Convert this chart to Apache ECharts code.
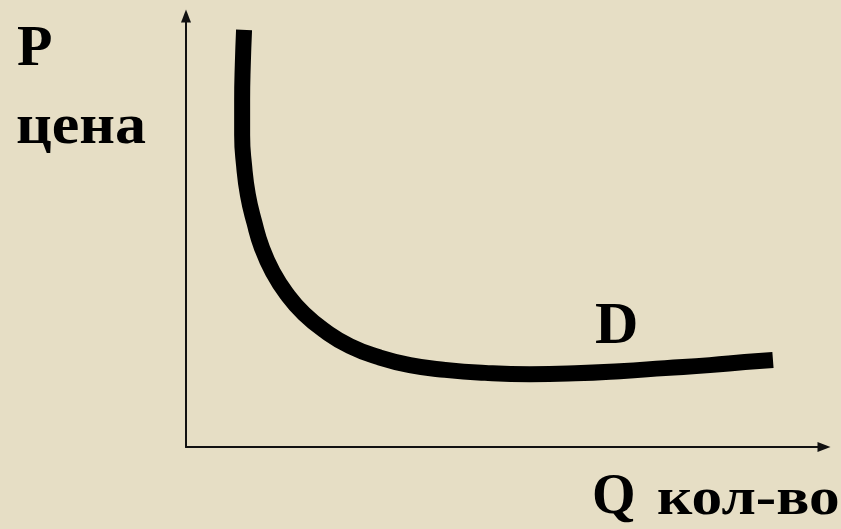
<!DOCTYPE html>
<html>
<head>
<meta charset="utf-8">
<script src="https://cdn.jsdelivr.net/npm/echarts@6/dist/echarts.min.js"></script>
<style>
  html, body { margin: 0; padding: 0; background: #e6dec5; }
  #chart { width: 841px; height: 529px; }
</style>
</head>
<body>
<div id="chart"></div>
<script>
// кривая спроса D: Q (кол-во) и P (цена), в условных единицах
const qValues = [9.1, 8.9, 8.8, 8.8, 9.1, 9.7, 10.7, 11.9, 13.6, 15.8, 18.5, 21.8, 25.7, 30.1,
                 35.1, 40.6, 46.9, 53.9, 61.0, 68.0, 75.1, 82.1, 87.6, 92.0];
const pValues = [96.8, 88.6, 80.5, 72.4, 65.4, 58.5, 52.2, 46.2, 40.6, 35.5, 30.9, 26.9, 23.4, 20.9,
                 19.0, 17.9, 17.2, 16.9, 17.1, 17.6, 18.3, 19.0, 19.7, 20.2];
const curveName = 'D';
const yLabels = ['P', 'цена'];
const xLabels = ['Q', 'кол-во'];

const chart = echarts.init(document.getElementById('chart'));
const serifFont = '"Liberation Serif", "DejaVu Serif", serif';

let demand = [];
for (let i = 0; i < qValues.length; i++) {
  demand.push([qValues[i], pValues[i]]);
}

// подпись: x, y - левый верхний угол, sx - растяжение по горизонтали
function label(text, x, y, size, sx) {
  return {
    type: 'text',
    x: x,
    y: y,
    scaleX: sx || 1,
    style: {
      text: text,
      font: 'bold ' + size + 'px ' + serifFont,
      fill: '#000',
      align: 'left',
      verticalAlign: 'top'
    }
  };
}

let option = {
  backgroundColor: '#e6dec5',
  animation: false,
  grid: {
    left: 186,
    right: 17,
    top: 16,
    bottom: 82
  },
  xAxis: {
    type: 'value',
    min: 0,
    max: 100,
    axisLine: {
      show: true,
      symbol: ['none', 'triangle'],
      symbolSize: [10, 13],
      lineStyle: { color: '#111', width: 2 }
    },
    axisTick: { show: false },
    axisLabel: { show: false },
    splitLine: { show: false }
  },
  yAxis: {
    type: 'value',
    min: 0,
    max: 100,
    axisLine: {
      show: true,
      symbol: ['none', 'triangle'],
      symbolSize: [10, 13],
      lineStyle: { color: '#111', width: 2 }
    },
    axisTick: { show: false },
    axisLabel: { show: false },
    splitLine: { show: false }
  },
  graphic: [
    label(yLabels[0], 17, 21, 58),
    label(yLabels[1], 16, 99, 58, 1.07),
    label(xLabels[0], 592, 471, 56),
    label(xLabels[1], 657, 475, 52, 1.18),
    label(curveName, 595, 297, 60)
  ],
  series: [{
    name: curveName,
    type: 'line',
    data: demand,
    smooth: 0.5,
    showSymbol: false,
    lineStyle: {
      color: '#000',
      width: 16,
      cap: 'butt'
    }
  }]
};

chart.setOption(option);
</script>
</body>
</html>
